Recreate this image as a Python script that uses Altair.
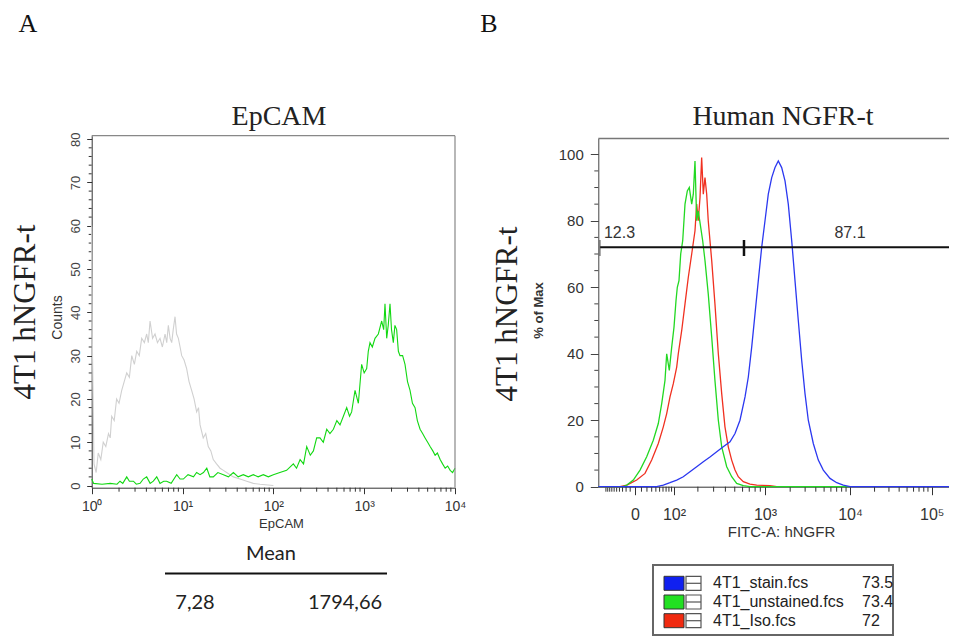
import altair as alt
import pandas as pd

# ---------------- data: panel A (EpCAM histogram) ----------------
a_gray_x = [1.0, 1.02, 1.06, 1.12, 1.18, 1.26, 1.34, 1.43, 1.53, 1.6, 1.66, 1.77, 1.88, 2.0, 2.14, 2.28,
            2.43, 2.6, 2.76, 2.95, 3.13, 3.34, 3.55, 3.8, 4.03, 4.2, 4.39, 4.68, 4.98, 5.3, 5.65, 6.0,
            6.42, 6.7, 6.98, 7.3, 7.6, 7.9, 8.27, 8.6, 9.0, 9.4, 9.79, 10.4, 11.1, 11.8, 12.6, 13.4,
            14.3, 15.0, 15.6, 16.9, 18.0, 19.2, 20.5, 21.8, 23.7, 25.9, 28.2, 30.6, 33.3, 36.3, 43.0,
            50.9, 60.2, 71.3, 100]
a_gray_y = [60, 31, 5, 3, 7.5, 6, 10, 9, 12, 11, 16, 15, 20, 19, 22, 24,
            26, 25, 30, 28, 31, 30, 34, 33, 35, 33, 38, 34, 35, 33, 34, 32,
            35, 33, 37, 34, 33, 36, 39, 35, 34, 32, 30, 29, 27, 24, 22, 20,
            17, 18, 14, 11, 12, 9, 8, 6, 5, 4, 3.5, 3, 2.5, 2, 1.5,
            1, 0.5, 0.3, 0]
a_green_x = [1.0, 1.05, 1.3, 1.6, 1.9, 2.05, 2.2, 2.43, 2.6, 2.88, 3.1, 3.41, 3.7, 4.03, 4.4, 4.77,
             5.2, 5.65, 6.2, 6.69, 7.5, 8.63, 9.4, 10.2, 11.5, 13.2, 14.3, 15.6, 17, 18.5, 20, 21.8,
             24.5, 28.2, 32, 36.3, 41, 46.7, 53, 60.2, 68, 77.6, 88, 100, 118, 140, 166, 180, 197,
             215, 233, 255, 276, 300, 326, 355, 387, 420, 458, 500, 542, 590, 642, 690, 728, 793,
             863, 938, 1000, 1066, 1110, 1159, 1230, 1316, 1432, 1559, 1640, 1695, 1770, 1840, 1925,
             2000, 2094, 2180, 2278, 2380, 2479, 2650, 2816, 3000, 3198, 3400, 3632, 3850, 4125,
             4400, 4684, 5000, 5320, 5700, 6042, 6400, 6862, 7300, 7793, 8300, 8851, 9400, 10000]
a_green_y = [1.5, 0.5, 0.3, 0.5, 0.3, 1, 0.5, 2, 1, 1, 0.3, 0.5, 1.5, 2, 0.5, 1,
             2, 0.5, 1, 1, 0.5, 2.5, 1.5, 1.5, 2.5, 2, 3, 2.5, 3, 4, 2, 2,
             3, 2.5, 2, 3, 2, 2.5, 2, 2.5, 2, 2.5, 2, 2.5, 3, 3.5, 5, 4, 6,
             5, 9, 7, 8, 11, 11, 10, 13, 12, 13, 15, 14, 16, 18, 16, 17, 22,
             19, 28, 26, 27, 31, 33, 32, 34, 35, 38, 36, 42, 34, 37, 42,
             36, 33, 37, 36, 31, 30, 30, 28, 24, 22, 19, 18, 15, 13,
             12, 11, 10, 9, 8, 7, 7.5, 6, 5, 4, 4.5, 3.5, 3, 4]
a_mean_header = "Mean"
a_mean_values = ["7,28", "1794,66"]
a_x_major = [1, 10, 100, 1000, 10000]
a_x_major_labels = ["10\u2070", "10\u00b9", "10\u00b2", "10\u00b3", "10\u2074"]
a_y_major = [0, 10, 20, 30, 40, 50, 60, 70, 80]

# ---------------- data: panel B (hNGFR histograms, % of max) ----------------
b_iso_x = [-150, -38, -18, 2.45, 16.3, 30, 46.4, 61, 72.1, 84, 97.1, 108.9, 114.4, 126.9, 139.8,
           153.7, 169, 185, 193.7, 202, 211.6, 221, 230.7, 241, 251.8, 262, 286, 310, 337, 366,
           396, 429, 465, 503, 543, 610, 712, 830, 1149, 1383]
b_iso_y = [0, 0, 0.5, 2, 4, 8, 13, 18, 22, 27, 31, 36, 40, 47, 55,
           63, 70, 77, 85, 80, 87, 99, 88, 93, 88, 80, 68, 55, 40, 28,
           18, 12, 8, 5, 3, 1.5, 0.8, 0.5, 0.3, 0]
b_unst_x = [-150, -28, -18, -3.3, 7.6, 19.5, 33.7, 46.4, 56.1, 66.4, 72.1, 81.4, 90.6, 100, 106.6,
            111, 116.9, 123.1, 130.7, 139.8, 149.4, 158, 169, 176.6, 185, 193.7, 202, 215.5, 227,
            241, 262, 286, 310, 337, 366, 413, 465, 523, 610, 712, 10000]
b_unst_y = [0, 0, 0.5, 2, 5, 9, 14, 19, 25, 32, 40, 35, 42, 48, 56,
            60, 62, 70, 74, 85, 89, 90, 85, 88, 98, 80, 83, 78, 74,
            68, 58, 45, 32, 20, 12, 6, 3, 1, 0.3, 0, 0]
b_stain_x = [-150, 42, 61, 84, 108.9, 132.9, 161, 193.7, 230.7, 276, 324, 380, 447, 503, 565, 635,
             685, 740, 798, 860, 928, 1000, 1096, 1205, 1320, 1445, 1586, 1737, 1900, 2085, 2280,
             2494, 2734, 2990, 3268, 3740, 4279, 4894, 5858, 7010, 8360, 10000, 163000]
b_stain_y = [0, 0, 0.5, 1.2, 2, 3, 4.5, 6, 7.5, 9, 10.5, 12, 13.5, 16, 20, 27,
             33, 42, 52, 62, 72, 80, 88, 93, 96, 98, 96, 92, 85, 74, 62,
             50, 38, 28, 20, 13, 8, 5, 2.5, 1.2, 0.5, 0, 0]
b_x_major = [0, 100, 1000, 10000, 100000]
b_x_major_labels = ["0", "10\u00b2", "10\u00b3", "10\u2074", "10\u2075"]
b_y_major = [0, 20, 40, 60, 80, 100]
b_gate_bounds = [-138, 620, 163000]
b_gate_pcts = ["12.3", "87.1"]
legend_names = ["4T1_stain.fcs", "4T1_unstained.fcs", "4T1_Iso.fcs"]
legend_values = ["73.5", "73.4", "72"]
legend_colors = ["#1020f0", "#22e022", "#f02a10"]
line_colors = {"stain": "#2b38f0", "unst": "#22d822", "iso": "#f03020"}

panel_letters = ["A", "B"]
panel_titles = ["EpCAM", "Human NGFR-t"]
row_label = "4T1 hNGFR-t"

# minor tick positions (data values)
a_x_minor = [d * k for d in [1, 10, 100, 1000] for k in range(2, 10)]
a_y_minor = [v for v in range(2, 81, 2) if v % 10 != 0]
b_x_minor = ([-100, -90, -80, -70, -60, -50, -40, -30, -20, -10] + list(range(10, 100, 10))
             + [d * k for d in [100, 1000, 10000] for k in range(2, 10)])
b_y_minor = [v for v in range(5, 101, 5) if v % 20 != 0]

# ---------------- scales (pixel ranges inside one 941x628 canvas) ----------------
AX_L, AX_B = 83.7, 479.7      # panel A axis positions (canvas px)
BX_L, BX_B = 590.3, 478.7     # panel B axis positions
xA = alt.Scale(type="log", domain=[1, 10000], range=[AX_L, 447.0], nice=False)
yA = alt.Scale(domain=[-0.5, 80.8], range=[AX_B, 127.7], nice=False, zero=False)
xB = alt.Scale(type="symlog", constant=50,
               domain=[-150, 0, 100, 1000, 10000, 100000, 163000],
               range=[BX_L, 627, 666, 757, 842, 923.7, 941], nice=False, zero=False)
yB = alt.Scale(domain=[0, 104.75], range=[BX_B, 130.5], nice=False, zero=False)

SANS = "Liberation Sans"
SERIF = "Liberation Serif"


def label_expr(vals, labels):
    parts = ["datum.value == %s ? '%s'" % (v, l) for v, l in zip(vals, labels)]
    return " : ".join(parts) + " : ''"


axis_xA = alt.Axis(
    orient="bottom", offset=-(628 - AX_B), values=a_x_major, grid=False,
    labelExpr=label_expr(a_x_major, a_x_major_labels), tickSize=6,
    labelOverlap=False, labelFlush=False, labelPadding=6, labelFont=SANS, labelFontSize=14,
    labelColor="#333", tickColor="#333", domainColor="#333",
    title="EpCAM", titleFont=SANS, titleFontSize=13, titleFontWeight="normal", titleColor="#333",
    titleX=273, titleY=36, titleBaseline="middle", titleAlign="center")
axis_yA = alt.Axis(
    orient="left", offset=-AX_L, values=a_y_major, grid=False, format="d", tickSize=5,
    labelAngle=270, labelAlign="center", labelBaseline="alphabetic",
    labelOverlap=False, labelFlush=False, labelPadding=7, labelFont=SANS, labelFontSize=13,
    labelColor="#444", tickColor="#333", domainColor="#333",
    title="Counts", titleFont=SANS, titleFontSize=14, titleFontWeight="normal", titleColor="#333",
    titleX=-34, titleY=309, titleBaseline="middle", titleAlign="center", titleAngle=270)
axis_xB = alt.Axis(
    orient="bottom", offset=-(628 - BX_B), values=b_x_major, grid=False,
    labelExpr=label_expr(b_x_major, b_x_major_labels), tickSize=8,
    labelOverlap=False, labelFlush=False, labelPadding=12, labelFont=SANS, labelFontSize=16,
    labelColor="#333", tickColor="#333", domainColor="#333",
    title="FITC-A: hNGFR", titleFont=SANS, titleFontSize=15, titleFontWeight="normal", titleColor="#333",
    titleX=773, titleY=45, titleBaseline="middle", titleAlign="center")
axis_yB = alt.Axis(
    orient="left", offset=-BX_L, values=b_y_major, grid=False, format="d", tickSize=8,
    labelOverlap=False, labelFlush=False, labelPadding=7, labelFont=SANS, labelFontSize=15,
    labelColor="#333", tickColor="#444", domainColor="#444", labelBaseline="middle",
    title="% of Max", titleFont=SANS, titleFontSize=13, titleFontWeight="bold", titleColor="#333",
    titleX=-60, titleY=302, titleBaseline="middle", titleAlign="center", titleAngle=270)

# ---------------- panel A layers ----------------
dfA_gray = pd.DataFrame({"x": a_gray_x, "y": a_gray_y})
dfA_green = pd.DataFrame({"x": a_green_x, "y": a_green_y})
encA = dict(x=alt.X("x:Q", scale=xA, axis=axis_xA), y=alt.Y("y:Q", scale=yA, axis=axis_yA))
gray = alt.Chart(dfA_gray).mark_line(color="#d0d0d0", strokeWidth=1.1).encode(**encA)
green = alt.Chart(dfA_green).mark_line(color="#12d812", strokeWidth=1.1).encode(**encA)
frame_df = pd.DataFrame({"x0": [1], "x1": [10000], "y0": [-0.5], "y1": [80.8]})
frame_top = alt.Chart(frame_df).mark_rule(color="#888", strokeWidth=1.2).encode(
    x=alt.X("x0:Q", scale=xA, axis=axis_xA), x2="x1:Q", y=alt.Y("y1:Q", scale=yA, axis=axis_yA))
frame_right = alt.Chart(frame_df).mark_rule(color="#888", strokeWidth=1.2).encode(
    x=alt.X("x1:Q", scale=xA, axis=axis_xA), y=alt.Y("y0:Q", scale=yA, axis=axis_yA), y2="y1:Q")
minA_x = alt.Chart(pd.DataFrame({"v": a_x_minor})).mark_rule(color="#333", strokeWidth=1).encode(
    x=alt.X("v:Q", scale=xA, axis=axis_xA), y=alt.value(AX_B), y2=alt.value(AX_B + 4))
minA_y = alt.Chart(pd.DataFrame({"v": a_y_minor})).mark_rule(color="#333", strokeWidth=1).encode(
    y=alt.Y("v:Q", scale=yA, axis=axis_yA), x=alt.value(AX_L - 3), x2=alt.value(AX_L))
panelA = alt.layer(minA_x, minA_y, gray, green, frame_top, frame_right)

# ---------------- panel B layers ----------------
encB = dict(x=alt.X("x:Q", scale=xB, axis=axis_xB), y=alt.Y("y:Q", scale=yB, axis=axis_yB))


def bline(xs, ys, color):
    df = pd.DataFrame({"x": xs, "y": ys})
    return alt.Chart(df).mark_line(color=color, strokeWidth=1.3).encode(**encB)


iso = bline(b_iso_x, b_iso_y, line_colors["iso"])
unst = bline(b_unst_x, b_unst_y, line_colors["unst"])
stain = bline(b_stain_x, b_stain_y, line_colors["stain"])

minB_x = alt.Chart(pd.DataFrame({"v": b_x_minor})).mark_rule(color="#333", strokeWidth=1).encode(
    x=alt.X("v:Q", scale=xB, axis=axis_xB), y=alt.value(BX_B), y2=alt.value(BX_B + 5))
minB_y = alt.Chart(pd.DataFrame({"v": b_y_minor})).mark_rule(color="#444", strokeWidth=1).encode(
    y=alt.Y("v:Q", scale=yB, axis=axis_yB), x=alt.value(BX_L - 4), x2=alt.value(BX_L))

frameB_df = pd.DataFrame({"x0": [-150], "x1": [163000], "y1": [104.75]})
frameB_top = alt.Chart(frameB_df).mark_rule(color="#777", strokeWidth=1.5).encode(
    x=alt.X("x0:Q", scale=xB, axis=axis_xB), x2="x1:Q", y=alt.Y("y1:Q", scale=yB, axis=axis_yB))

gate_df = pd.DataFrame({"x0": [b_gate_bounds[0]], "x1": [b_gate_bounds[2]]})
gate_line = alt.Chart(gate_df).mark_rule(color="#111", strokeWidth=2).encode(
    x=alt.X("x0:Q", scale=xB, axis=axis_xB), x2="x1:Q", y=alt.value(239.3))
gate_tick_l = alt.Chart(pd.DataFrame({"x": [b_gate_bounds[0]]})).mark_rule(color="#444", strokeWidth=1).encode(
    x=alt.X("x:Q", scale=xB, axis=axis_xB), y=alt.value(232), y2=alt.value(248))
gate_tick_m = alt.Chart(pd.DataFrame({"x": [b_gate_bounds[1]]})).mark_rule(color="#111", strokeWidth=2.5).encode(
    x=alt.X("x:Q", scale=xB, axis=axis_xB), y=alt.value(232), y2=alt.value(248))
gate_lab1 = alt.Chart(pd.DataFrame({"x": [b_gate_bounds[0]], "t": [b_gate_pcts[0]]})).mark_text(
    font=SANS, fontSize=16, color="#333", align="left", baseline="middle", dx=4).encode(
    x=alt.X("x:Q", scale=xB, axis=axis_xB), y=alt.value(225), text="t:N")
gate_lab2 = alt.Chart(pd.DataFrame({"x": [10000], "t": [b_gate_pcts[1]]})).mark_text(
    font=SANS, fontSize=16, color="#333", align="center", baseline="middle").encode(
    x=alt.X("x:Q", scale=xB, axis=axis_xB), y=alt.value(225), text="t:N")

panelB = alt.layer(minB_x, minB_y, iso, unst, stain, frameB_top, gate_line, gate_tick_l,
                   gate_tick_m, gate_lab1, gate_lab2)

# ---------------- annotations (text, table, legend) ----------------
def label(txt, x, y, size, font, angle=0, color="#111", align="center", weight="normal"):
    df = pd.DataFrame({"t": [txt]})
    return alt.Chart(df).mark_text(font=font, fontSize=size, color=color, align=align,
                                   baseline="middle", angle=angle, fontWeight=weight).encode(
        x=alt.value(x), y=alt.value(y), text="t:N")


ann = [
    label(panel_letters[0], 20, 16, 26, SERIF),
    label(panel_letters[1], 481, 16, 26, SERIF),
    label(panel_titles[0], 271, 109, 28, SERIF, color="#222"),
    label(panel_titles[1], 775, 109, 28, SERIF, color="#222"),
    label(row_label, 18, 304, 31, SERIF, angle=270, color="#222"),
    label(row_label, 500, 306, 31, SERIF, angle=270, color="#222"),
    label(a_mean_header, 263, 546, 20, "Lato", color="#222"),
    label(a_mean_values[0], 187, 595, 20, "Lato", color="#222"),
    label(a_mean_values[1], 337, 595, 20, "Lato", color="#222"),
]
one = pd.DataFrame({"k": [0]})
ann.append(alt.Chart(one).mark_rule(color="#111", strokeWidth=2).encode(
    x=alt.value(157), x2=alt.value(379), y=alt.value(565.5)))

ann.append(alt.Chart(one).mark_rect(fill="white", stroke="#666", strokeWidth=2).encode(
    x=alt.value(645), x2=alt.value(885), y=alt.value(557), y2=alt.value(627)))
for i, (name, val, col) in enumerate(zip(legend_names, legend_values, legend_colors)):
    cy = 575.3 + i * 18.7
    ann.append(alt.Chart(one).mark_rect(fill=col, stroke="#333", strokeWidth=1).encode(
        x=alt.value(656), x2=alt.value(676), y=alt.value(cy - 7), y2=alt.value(cy + 7)))
    ann.append(alt.Chart(one).mark_rect(fill="white", stroke="#555", strokeWidth=1.2).encode(
        x=alt.value(678), x2=alt.value(693), y=alt.value(cy - 7), y2=alt.value(cy + 7)))
    ann.append(alt.Chart(one).mark_rule(color="#555", strokeWidth=1.2).encode(
        x=alt.value(678), x2=alt.value(693), y=alt.value(cy)))
    ann.append(label(name, 705, cy, 16, SANS, color="#222", align="left"))
    ann.append(label(val, 854, cy, 16, SANS, color="#222", align="left"))

chart = alt.layer(panelA, panelB, *ann).resolve_scale(
    x="independent", y="independent").properties(
    width=941, height=628, padding=0, autosize=alt.AutoSizeParams(type="none"),
    background="white").configure_view(strokeWidth=0).configure_axis(labelOverlap=False)

chart.save("out.html", embed_options={"renderer": "svg", "actions": False})
